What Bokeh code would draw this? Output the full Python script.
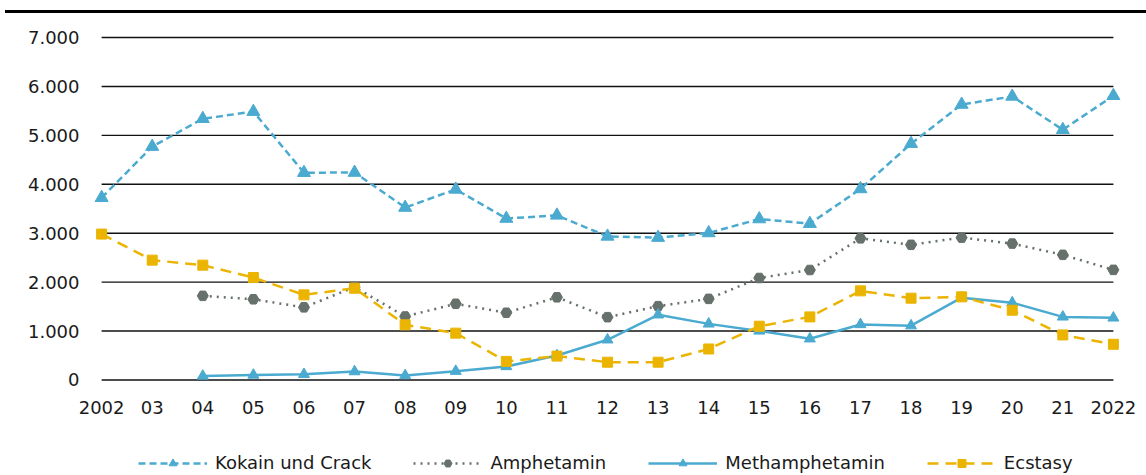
from bokeh.plotting import figure
from bokeh.models import Range1d, FixedTicker, Legend, LegendItem, Div
from bokeh.layouts import column
from bokeh.embed import file_html
from bokeh.resources import INLINE

years = list(range(2002, 2023))
year_labels = ["2002", "03", "04", "05", "06", "07", "08", "09", "10", "11",
               "12", "13", "14", "15", "16", "17", "18", "19", "20", "21", "2022"]
y_ticks = [0, 1000, 2000, 3000, 4000, 5000, 6000, 7000]
y_labels = ["0", "1.000", "2.000", "3.000", "4.000", "5.000", "6.000", "7.000"]

kokain = [3725, 4770, 5340, 5485, 4237, 4240, 3525, 3895, 3300, 3365, 2935,
          2910, 3005, 3290, 3195, 3905, 4830, 5630, 5795, 5115, 5810]
amph_years = list(range(2004, 2023))
amphetamin = [1720, 1650, 1485, 1900, 1298, 1558, 1374, 1690, 1284, 1509,
              1658, 2085, 2248, 2895, 2763, 2910, 2788, 2558, 2251]
meth_years = list(range(2004, 2023))
methamphetamin = [82, 102, 116, 172, 92, 180, 276, 500, 822, 1333, 1147,
                  1003, 843, 1135, 1110, 1682, 1580, 1290, 1270]
ecstasy = [2982, 2450, 2347, 2094, 1740, 1876, 1128, 958, 380, 488, 364,
           364, 634, 1099, 1290, 1822, 1672, 1699, 1426, 921, 730]
series_names = ["Kokain und Crack", "Amphetamin", "Methamphetamin", "Ecstasy"]

BLUE = "#4baad0"
GRAY = "#67716b"
GOLD = "#ebb400"
FONT = "DejaVu Sans"
FS = "18px"

styles = [
    dict(color=BLUE, dash="7 4", marker="triangle", size=13),
    dict(color=GRAY, dash="2 5", marker="hex", size=11),
    dict(color=BLUE, dash="solid", marker="triangle", size=11),
    dict(color=GOLD, dash="11 7", marker="square", size=10),
]
data = [(years, kokain), (amph_years, amphetamin), (meth_years, methamphetamin),
        (years, ecstasy)]

# ---- main chart ----
p = figure(width=1146, height=417, output_backend="svg", toolbar_location=None,
           x_range=Range1d(2001.80, 2022.16), y_range=Range1d(-92, 7041),
           min_border_left=91, min_border_right=25, min_border_top=22,
           min_border_bottom=46)
p.outline_line_color = None
p.xgrid.visible = False
p.ygrid.visible = False

# horizontal gridlines spanning the year range
p.segment(x0=[years[0]] * len(y_ticks), x1=[years[-1]] * len(y_ticks),
          y0=y_ticks, y1=y_ticks, line_color="#111111", line_width=1.4)

for ax in (p.xaxis[0], p.yaxis[0]):
    ax.axis_line_color = None
    ax.major_tick_line_color = None
    ax.minor_tick_line_color = None
    ax.major_tick_out = 0
    ax.major_tick_in = 0
    ax.major_label_text_font = FONT
    ax.major_label_text_font_size = FS
    ax.major_label_text_color = "#1a1a1a"

p.xaxis[0].ticker = FixedTicker(ticks=years)
p.xaxis[0].major_label_overrides = {y: l for y, l in zip(years, year_labels)}
p.xaxis[0].major_label_standoff = 16
p.yaxis[0].ticker = FixedTicker(ticks=y_ticks)
p.yaxis[0].major_label_overrides = {t: l for t, l in zip(y_ticks, y_labels)}
p.yaxis[0].major_label_standoff = 12

for (xs, ys), st in zip(data, styles):
    p.line(xs, ys, line_color=st["color"], line_width=2.5, line_dash=st["dash"])
    p.scatter(xs, ys, marker=st["marker"], size=st["size"],
              fill_color=st["color"], line_color=st["color"])

# ---- legend strip: same series, ranges chosen so only the legend shows ----
lg = figure(width=1146, height=45, output_backend="svg", toolbar_location=None,
            x_range=Range1d(0, 1), y_range=Range1d(0, 1),
            min_border=0, x_axis_location=None, y_axis_location=None)
lg.outline_line_color = None
lg.xgrid.visible = False
lg.ygrid.visible = False

items = []
for name, (xs, ys), st in zip(series_names, data, styles):
    r1 = lg.line(xs, ys, line_color=st["color"], line_width=2.5, line_dash=st["dash"])
    r2 = lg.scatter(xs, ys, marker=st["marker"], size=st["size"],
                    fill_color=st["color"], line_color=st["color"])
    items.append(LegendItem(label=name, renderers=[r1, r2]))

legend = Legend(items=items, orientation="horizontal", location=(47, 2))
legend.glyph_width = 69
legend.glyph_height = 20
legend.label_height = 20
legend.label_standoff = 8
legend.spacing = 42
legend.padding = 0
legend.margin = 0
legend.border_line_color = None
legend.background_fill_alpha = 0
legend.label_text_font = FONT
legend.label_text_font_size = FS
legend.label_text_color = "#1a1a1a"
lg.add_layout(legend, "center")

top_line = Div(text="", width=1141, height=3, margin=(10, 0, 0, 5),
               styles={"background-color": "black"})

layout = column(top_line, p, lg, spacing=0)
open("out.html", "w").write(file_html(layout, INLINE))
